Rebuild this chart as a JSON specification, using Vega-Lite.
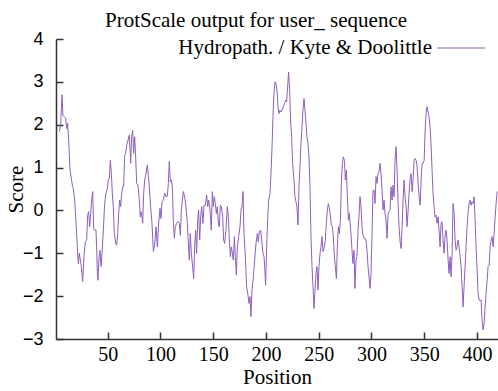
{
  "$schema": "https://vega.github.io/schema/vega-lite/v6.json",
  "width": 442,
  "height": 300,
  "autosize": {"type": "none"},
  "padding": {"left": 56, "top": 39, "right": 0, "bottom": 52},
  "background": "white",
  "title": {"text": "ProtScale output for user_ sequence", "font": "Liberation Serif", "fontSize": 21, "fontWeight": "normal", "color": "black", "anchor": "middle", "dx": -21, "offset": -8},
  "data": {"values": [
    {"pos": 4.2, "score": 1.84}, {"pos": 5.4, "score": 1.99}, {"pos": 6.7, "score": 2.70}, {"pos": 7.6, "score": 2.22}, {"pos": 8.6, "score": 2.19},
    {"pos": 10.2, "score": 2.15}, {"pos": 11.1, "score": 1.91}, {"pos": 12.1, "score": 2.03}, {"pos": 12.7, "score": 1.76}, {"pos": 13.3, "score": 1.49},
    {"pos": 14.3, "score": 0.94}, {"pos": 15.5, "score": 0.75}, {"pos": 16.5, "score": 0.59}, {"pos": 17.4, "score": 0.51}, {"pos": 18.7, "score": 0.24},
    {"pos": 20.0, "score": -0.30}, {"pos": 21.2, "score": -0.85}, {"pos": 22.2, "score": -1.24}, {"pos": 23.1, "score": -1.00}, {"pos": 24.1, "score": -1.16},
    {"pos": 25.0, "score": -1.31}, {"pos": 26.3, "score": -1.66}, {"pos": 27.5, "score": -1.08}, {"pos": 28.8, "score": -0.73}, {"pos": 30.1, "score": -0.69},
    {"pos": 31.0, "score": -0.11}, {"pos": 32.0, "score": -0.03}, {"pos": 32.9, "score": -0.38}, {"pos": 33.9, "score": -0.07}, {"pos": 34.8, "score": 0.24},
    {"pos": 35.8, "score": 0.44}, {"pos": 36.7, "score": -0.42}, {"pos": 37.6, "score": -0.46}, {"pos": 38.9, "score": -0.46}, {"pos": 39.5, "score": -0.85},
    {"pos": 40.2, "score": -1.47}, {"pos": 40.8, "score": -1.63}, {"pos": 41.8, "score": -1.08}, {"pos": 42.7, "score": -0.93}, {"pos": 43.7, "score": -1.31},
    {"pos": 44.6, "score": -1.00}, {"pos": 45.9, "score": -0.46}, {"pos": 47.1, "score": 0.16}, {"pos": 48.4, "score": 0.40}, {"pos": 49.7, "score": 0.51},
    {"pos": 50.6, "score": 0.71}, {"pos": 51.6, "score": 0.75}, {"pos": 52.5, "score": 1.17}, {"pos": 53.5, "score": 0.86}, {"pos": 54.4, "score": 0.40},
    {"pos": 55.3, "score": 0.09}, {"pos": 56.3, "score": -0.54}, {"pos": 57.6, "score": -0.77}, {"pos": 58.5, "score": -0.81}, {"pos": 59.5, "score": -0.54},
    {"pos": 60.4, "score": -0.07}, {"pos": 61.4, "score": 0.24}, {"pos": 62.3, "score": 0.09}, {"pos": 63.3, "score": 0.40}, {"pos": 64.2, "score": 0.55},
    {"pos": 65.1, "score": 0.55}, {"pos": 66.1, "score": 1.29}, {"pos": 67.0, "score": 1.33}, {"pos": 68.0, "score": 1.52}, {"pos": 69.3, "score": 1.64},
    {"pos": 70.5, "score": 1.76}, {"pos": 71.8, "score": 1.10}, {"pos": 72.7, "score": 1.72}, {"pos": 73.7, "score": 1.87}, {"pos": 74.6, "score": 1.33},
    {"pos": 75.6, "score": 1.72}, {"pos": 76.5, "score": 1.25}, {"pos": 77.5, "score": 0.63}, {"pos": 78.7, "score": 0.59}, {"pos": 80.0, "score": 0.24},
    {"pos": 80.9, "score": -0.15}, {"pos": 81.9, "score": -0.03}, {"pos": 83.2, "score": -0.30}, {"pos": 84.1, "score": 0.40}, {"pos": 85.1, "score": 0.71},
    {"pos": 86.3, "score": 0.86}, {"pos": 87.6, "score": 1.06}, {"pos": 88.5, "score": 0.82}, {"pos": 89.5, "score": 0.55}, {"pos": 90.7, "score": 0.09},
    {"pos": 92.0, "score": -0.30}, {"pos": 93.3, "score": -0.96}, {"pos": 94.5, "score": -0.81}, {"pos": 95.8, "score": -0.38}, {"pos": 97.1, "score": -0.85},
    {"pos": 98.3, "score": -0.30}, {"pos": 99.6, "score": 0.05}, {"pos": 100.5, "score": -0.19}, {"pos": 101.5, "score": 0.20}, {"pos": 102.7, "score": 0.24},
    {"pos": 104.0, "score": 0.40}, {"pos": 105.3, "score": 0.32}, {"pos": 106.5, "score": 0.33}, {"pos": 107.5, "score": 0.63}, {"pos": 108.4, "score": 1.14},
    {"pos": 109.4, "score": 0.67}, {"pos": 110.3, "score": 0.71}, {"pos": 111.3, "score": 0.55}, {"pos": 112.2, "score": -0.23}, {"pos": 113.2, "score": -0.65},
    {"pos": 114.1, "score": -0.38}, {"pos": 115.4, "score": -0.30}, {"pos": 116.6, "score": -0.26}, {"pos": 117.9, "score": -0.30}, {"pos": 118.9, "score": -0.58},
    {"pos": 119.8, "score": 0.01}, {"pos": 120.8, "score": 0.24}, {"pos": 121.7, "score": 0.44}, {"pos": 123.0, "score": 0.32}, {"pos": 124.2, "score": 0.09},
    {"pos": 125.5, "score": -0.30}, {"pos": 126.4, "score": -0.73}, {"pos": 127.4, "score": -1.16}, {"pos": 128.3, "score": -0.54}, {"pos": 129.3, "score": -1.00},
    {"pos": 130.5, "score": -1.31}, {"pos": 131.5, "score": -1.59}, {"pos": 132.4, "score": -0.85}, {"pos": 133.4, "score": -0.46}, {"pos": 134.3, "score": -1.00},
    {"pos": 135.3, "score": -0.23}, {"pos": 136.2, "score": 0.01}, {"pos": 137.2, "score": -0.69}, {"pos": 138.1, "score": -0.15}, {"pos": 139.1, "score": 0.09},
    {"pos": 140.3, "score": -0.30}, {"pos": 141.3, "score": 0.12}, {"pos": 142.6, "score": 0.12}, {"pos": 143.8, "score": 0.36}, {"pos": 144.8, "score": 0.09},
    {"pos": 145.7, "score": 0.24}, {"pos": 147.0, "score": 0.01}, {"pos": 148.2, "score": -0.46}, {"pos": 149.2, "score": 0.44}, {"pos": 150.1, "score": 0.09},
    {"pos": 151.1, "score": 0.32}, {"pos": 152.0, "score": 0.16}, {"pos": 153.0, "score": -0.07}, {"pos": 153.9, "score": 0.09}, {"pos": 154.9, "score": -0.30},
    {"pos": 155.8, "score": -0.38}, {"pos": 156.8, "score": 0.12}, {"pos": 157.7, "score": 0.09}, {"pos": 159.0, "score": -0.15}, {"pos": 159.9, "score": -0.69},
    {"pos": 160.9, "score": -0.77}, {"pos": 162.1, "score": -0.46}, {"pos": 163.4, "score": 0.09}, {"pos": 164.4, "score": -0.15}, {"pos": 165.3, "score": -0.69},
    {"pos": 166.3, "score": -1.08}, {"pos": 167.2, "score": -0.85}, {"pos": 168.2, "score": -1.00}, {"pos": 169.1, "score": -1.16}, {"pos": 170.1, "score": -0.61},
    {"pos": 171.0, "score": -1.08}, {"pos": 172.0, "score": -1.51}, {"pos": 172.9, "score": -0.85}, {"pos": 174.2, "score": -0.61}, {"pos": 175.4, "score": -0.38},
    {"pos": 176.4, "score": 0.01}, {"pos": 177.3, "score": 0.09}, {"pos": 178.3, "score": 0.44}, {"pos": 179.2, "score": -0.54}, {"pos": 180.5, "score": -1.08},
    {"pos": 181.7, "score": -1.78}, {"pos": 183.0, "score": -1.98}, {"pos": 184.0, "score": -2.17}, {"pos": 184.9, "score": -2.01}, {"pos": 185.8, "score": -2.48},
    {"pos": 186.8, "score": -1.86}, {"pos": 188.1, "score": -1.55}, {"pos": 189.3, "score": -1.16}, {"pos": 190.6, "score": -0.77}, {"pos": 191.9, "score": -0.54},
    {"pos": 192.8, "score": -0.73}, {"pos": 193.7, "score": -0.50}, {"pos": 195.0, "score": -0.46}, {"pos": 196.0, "score": -0.69}, {"pos": 197.2, "score": -1.00},
    {"pos": 198.2, "score": -1.08}, {"pos": 198.8, "score": -1.31}, {"pos": 199.7, "score": -1.74}, {"pos": 200.7, "score": -0.85}, {"pos": 201.6, "score": -0.23},
    {"pos": 202.6, "score": 0.24}, {"pos": 203.9, "score": 0.40}, {"pos": 204.8, "score": 0.86}, {"pos": 205.8, "score": 1.49}, {"pos": 206.7, "score": 2.19},
    {"pos": 207.6, "score": 2.73}, {"pos": 208.6, "score": 3.00}, {"pos": 209.5, "score": 2.96}, {"pos": 210.5, "score": 2.81}, {"pos": 211.4, "score": 2.42},
    {"pos": 212.4, "score": 2.26}, {"pos": 213.3, "score": 2.34}, {"pos": 214.2, "score": 2.30}, {"pos": 215.2, "score": 2.34}, {"pos": 216.5, "score": 2.42},
    {"pos": 217.7, "score": 2.50}, {"pos": 218.7, "score": 2.57}, {"pos": 219.6, "score": 2.53}, {"pos": 220.6, "score": 2.88}, {"pos": 221.5, "score": 3.23},
    {"pos": 222.5, "score": 2.81}, {"pos": 223.4, "score": 2.11}, {"pos": 224.4, "score": 1.72}, {"pos": 225.3, "score": 1.10}, {"pos": 226.6, "score": 0.71},
    {"pos": 227.5, "score": 0.32}, {"pos": 228.5, "score": 0.20}, {"pos": 229.4, "score": 0.09}, {"pos": 230.4, "score": -0.34}, {"pos": 231.3, "score": 0.55},
    {"pos": 232.3, "score": 1.02}, {"pos": 233.2, "score": 1.56}, {"pos": 234.2, "score": 1.95}, {"pos": 235.1, "score": 2.34}, {"pos": 236.1, "score": 2.61},
    {"pos": 237.0, "score": 2.34}, {"pos": 238.0, "score": 2.03}, {"pos": 238.9, "score": 1.72}, {"pos": 239.9, "score": 1.56}, {"pos": 240.8, "score": 1.25},
    {"pos": 241.8, "score": 0.55}, {"pos": 242.7, "score": -0.61}, {"pos": 243.7, "score": -1.31}, {"pos": 244.6, "score": -1.78}, {"pos": 245.6, "score": -2.29},
    {"pos": 246.5, "score": -1.86}, {"pos": 247.5, "score": -1.47}, {"pos": 248.4, "score": -1.31}, {"pos": 249.4, "score": -1.86}, {"pos": 250.3, "score": -1.31},
    {"pos": 251.3, "score": -1.00}, {"pos": 252.2, "score": -0.85}, {"pos": 253.2, "score": -0.61}, {"pos": 254.1, "score": -0.96}, {"pos": 255.1, "score": -0.89},
    {"pos": 256.3, "score": -0.69}, {"pos": 257.3, "score": -0.30}, {"pos": 258.2, "score": 0.01}, {"pos": 259.2, "score": 0.16}, {"pos": 260.1, "score": 0.05},
    {"pos": 261.1, "score": -0.11}, {"pos": 262.0, "score": -0.34}, {"pos": 263.0, "score": -0.38}, {"pos": 263.9, "score": -0.61}, {"pos": 264.9, "score": -1.08},
    {"pos": 265.8, "score": -1.31}, {"pos": 266.8, "score": -1.59}, {"pos": 267.7, "score": -0.85}, {"pos": 268.7, "score": -0.38}, {"pos": 269.6, "score": -0.54},
    {"pos": 270.6, "score": -0.23}, {"pos": 271.5, "score": 0.63}, {"pos": 272.5, "score": 1.10}, {"pos": 273.4, "score": 1.25}, {"pos": 274.4, "score": 1.17},
    {"pos": 275.3, "score": 0.71}, {"pos": 276.3, "score": 0.94}, {"pos": 277.2, "score": 0.32}, {"pos": 278.2, "score": -0.23}, {"pos": 279.1, "score": -0.07},
    {"pos": 280.6, "score": -0.54}, {"pos": 281.6, "score": -0.93}, {"pos": 282.5, "score": -1.24}, {"pos": 283.5, "score": -0.93}, {"pos": 284.4, "score": -1.82},
    {"pos": 285.4, "score": -1.16}, {"pos": 286.3, "score": -1.08}, {"pos": 287.3, "score": -0.46}, {"pos": 288.2, "score": -0.15}, {"pos": 289.2, "score": 0.32},
    {"pos": 290.1, "score": 0.09}, {"pos": 291.1, "score": -0.38}, {"pos": 292.0, "score": -0.58}, {"pos": 293.0, "score": -0.65}, {"pos": 293.9, "score": -0.65},
    {"pos": 294.9, "score": -0.69}, {"pos": 295.8, "score": -0.93}, {"pos": 296.8, "score": -1.31}, {"pos": 297.7, "score": -1.55}, {"pos": 298.7, "score": -1.82},
    {"pos": 299.6, "score": -1.47}, {"pos": 300.6, "score": -0.54}, {"pos": 301.5, "score": 0.47}, {"pos": 302.5, "score": 0.47}, {"pos": 303.4, "score": 0.16},
    {"pos": 304.4, "score": 0.79}, {"pos": 305.3, "score": 0.63}, {"pos": 306.3, "score": 0.86}, {"pos": 307.2, "score": 0.90}, {"pos": 308.2, "score": 1.10},
    {"pos": 309.1, "score": 0.86}, {"pos": 310.1, "score": 0.47}, {"pos": 311.0, "score": 0.01}, {"pos": 312.0, "score": 0.24}, {"pos": 312.9, "score": -0.07},
    {"pos": 313.9, "score": -0.23}, {"pos": 314.8, "score": -0.65}, {"pos": 315.8, "score": -0.07}, {"pos": 316.7, "score": -0.03}, {"pos": 317.7, "score": 0.01},
    {"pos": 318.6, "score": 0.55}, {"pos": 319.6, "score": 0.24}, {"pos": 320.5, "score": 0.59}, {"pos": 321.5, "score": 0.32}, {"pos": 322.4, "score": 1.17},
    {"pos": 323.4, "score": 1.49}, {"pos": 324.3, "score": 0.94}, {"pos": 325.3, "score": 0.16}, {"pos": 326.2, "score": -0.38}, {"pos": 327.2, "score": -0.73},
    {"pos": 328.1, "score": -0.89}, {"pos": 329.1, "score": -0.38}, {"pos": 330.0, "score": 0.24}, {"pos": 331.0, "score": 0.71}, {"pos": 331.9, "score": 0.32},
    {"pos": 332.9, "score": 0.09}, {"pos": 333.8, "score": -0.38}, {"pos": 334.8, "score": 0.01}, {"pos": 335.7, "score": 0.40}, {"pos": 336.7, "score": 0.75},
    {"pos": 337.6, "score": 0.86}, {"pos": 338.6, "score": 0.44}, {"pos": 339.5, "score": 0.71}, {"pos": 340.5, "score": 1.17}, {"pos": 341.4, "score": 1.21},
    {"pos": 342.4, "score": 1.17}, {"pos": 343.3, "score": 1.02}, {"pos": 344.3, "score": 0.63}, {"pos": 345.2, "score": 0.32}, {"pos": 346.2, "score": 0.12},
    {"pos": 347.1, "score": 0.71}, {"pos": 348.1, "score": 1.10}, {"pos": 349.0, "score": 1.10}, {"pos": 350.0, "score": 1.17}, {"pos": 350.8, "score": 1.80},
    {"pos": 351.8, "score": 2.26}, {"pos": 352.7, "score": 2.42}, {"pos": 353.7, "score": 2.30}, {"pos": 354.6, "score": 2.19}, {"pos": 355.6, "score": 1.95},
    {"pos": 356.5, "score": 1.56}, {"pos": 357.5, "score": 0.94}, {"pos": 358.4, "score": 0.40}, {"pos": 359.4, "score": 0.09}, {"pos": 360.3, "score": -0.15},
    {"pos": 361.3, "score": -0.11}, {"pos": 362.2, "score": -0.30}, {"pos": 363.2, "score": -0.15}, {"pos": 364.1, "score": -0.46}, {"pos": 365.1, "score": -0.85},
    {"pos": 366.0, "score": -0.30}, {"pos": 367.0, "score": -0.26}, {"pos": 367.9, "score": -0.69}, {"pos": 368.9, "score": -1.00}, {"pos": 369.8, "score": -0.61},
    {"pos": 370.8, "score": -0.46}, {"pos": 371.7, "score": -0.69}, {"pos": 372.7, "score": -1.16}, {"pos": 373.6, "score": -1.47}, {"pos": 374.6, "score": -1.08},
    {"pos": 375.5, "score": -1.55}, {"pos": 376.5, "score": -1.00}, {"pos": 377.4, "score": 0.16}, {"pos": 378.4, "score": -0.07}, {"pos": 379.3, "score": -0.69},
    {"pos": 380.3, "score": -0.93}, {"pos": 381.2, "score": -0.85}, {"pos": 382.2, "score": -0.69}, {"pos": 383.1, "score": -0.85}, {"pos": 384.1, "score": -1.08},
    {"pos": 385.0, "score": -1.31}, {"pos": 386.0, "score": -1.78}, {"pos": 386.9, "score": -2.25}, {"pos": 387.8, "score": -1.78}, {"pos": 388.8, "score": -1.31},
    {"pos": 389.7, "score": -0.85}, {"pos": 390.7, "score": -0.38}, {"pos": 391.6, "score": -0.07}, {"pos": 392.6, "score": 0.16}, {"pos": 393.5, "score": 0.24},
    {"pos": 394.5, "score": 0.12}, {"pos": 395.4, "score": 0.20}, {"pos": 396.4, "score": 0.16}, {"pos": 397.3, "score": 0.32}, {"pos": 398.3, "score": -0.23},
    {"pos": 399.2, "score": -0.85}, {"pos": 400.2, "score": -1.39}, {"pos": 401.1, "score": -1.94}, {"pos": 402.1, "score": -2.09}, {"pos": 403.0, "score": -2.11},
    {"pos": 404.0, "score": -2.09}, {"pos": 404.9, "score": -2.56}, {"pos": 405.9, "score": -2.79}, {"pos": 406.8, "score": -2.64}, {"pos": 407.8, "score": -2.25},
    {"pos": 408.7, "score": -1.94}, {"pos": 409.7, "score": -1.63}, {"pos": 410.6, "score": -1.31}, {"pos": 411.6, "score": -1.28}, {"pos": 412.5, "score": -0.85},
    {"pos": 413.5, "score": -0.69}, {"pos": 414.4, "score": -0.61}, {"pos": 415.4, "score": -0.85}, {"pos": 416.3, "score": -0.54}, {"pos": 417.3, "score": -0.15},
    {"pos": 418.2, "score": 0.16}, {"pos": 419.2, "score": 0.44}
  ]},
  "mark": {"type": "line", "strokeWidth": 1},
  "encoding": {
    "x": {"field": "pos", "type": "quantitative", "scale": {"domain": [1, 420], "nice": false, "zero": false},
      "axis": {"title": "Position", "values": [50, 100, 150, 200, 250, 300, 350, 400], "labelFont": "Liberation Serif", "labelFontSize": 20, "labelPadding": 12, "titlePadding": 2}},
    "y": {"field": "score", "type": "quantitative", "scale": {"domain": [-3, 4], "nice": false, "zero": false},
      "axis": {"title": "Score", "values": [-3, -2, -1, 0, 1, 2, 3, 4], "labelFont": "Liberation Sans", "labelFontSize": 18, "labelPadding": 20, "titlePadding": -4}},
    "color": {"datum": "Hydropath. / Kyte & Doolittle", "type": "nominal", "scale": {"range": ["#8e5fbf"]},
      "legend": {"orient": "none", "legendX": 380, "legendY": -16, "title": null, "symbolType": "stroke", "symbolSize": 2304, "symbolStrokeWidth": 1.2, "labelFont": "Liberation Serif", "labelFontSize": 21, "labelColor": "black", "labelAlign": "right", "labelOffset": -54, "padding": 0, "labelLimit": 0}}
  },
  "config": {
    "view": {"stroke": null},
    "axis": {"domainColor": "#333333", "domainWidth": 1.5, "tickColor": "#333333", "tickWidth": 1.5, "tickSize": -7, "grid": false,
      "labelColor": "black",
      "titleFont": "Liberation Serif", "titleFontSize": 21, "titleFontWeight": "normal", "titleColor": "black"}
  }
}
